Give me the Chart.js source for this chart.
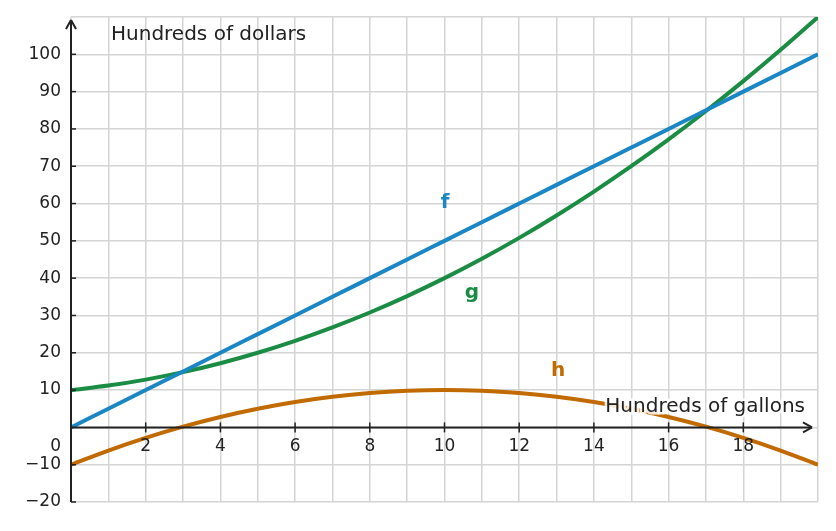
<!DOCTYPE html>
<html><head><meta charset="utf-8">
<script src="https://cdn.jsdelivr.net/npm/chart.js@4/dist/chart.umd.min.js"></script>
<style>html,body{margin:0;padding:0;background:#fff}#w{width:836px;height:531px}</style>
</head><body><div id="w"><canvas id="c"></canvas></div>
<script>
const xs = [0,1,2,3,4,5,6,7,8,9,10,11,12,13,14,15,16,17,18,19,20];
const fVals = [0,5,10,15,20,25,30,35,40,45,50,55,60,65,70,75,80,85,90,95,100];
const gVals = [10,11.2,12.8,14.8,17.2,20,23.2,26.8,30.8,35.2,40,45.2,50.8,56.8,63.2,70,77.2,84.8,92.8,101.2,110];
const hVals = [-10,-6.2,-2.8,0.2,2.8,5,6.8,8.2,9.2,9.8,10,9.8,9.2,8.2,6.8,5,2.8,0.2,-2.8,-6.2,-10];
const xTickLabels = [2,4,6,8,10,12,14,16,18];
const yTickLabels = [-20,-10,10,20,30,40,50,60,70,80,90,100];
const FC='#1a86c4', GC='#1a8c44', HC='#c06a00', TXT='#222';
const pts = v => xs.map((x,i)=>({x, y:v[i]}));
const F = '"DejaVu Sans", sans-serif';
const deco = {
  id:'deco',
  afterDatasetsDraw(ch){
    const c=ch.ctx, X=ch.scales.x, Y=ch.scales.y;
    const x0=X.getPixelForValue(0), y0=Y.getPixelForValue(0);
    c.save();
    c.strokeStyle=TXT; c.fillStyle=TXT; c.lineWidth=2;
    c.beginPath(); c.moveTo(x0,y0); c.lineTo(812,y0); c.stroke();
    c.beginPath(); c.moveTo(812,y0); c.lineTo(803,y0-5); c.moveTo(812,y0); c.lineTo(803,y0+5); c.stroke();
    c.beginPath(); c.moveTo(x0,Y.bottom); c.lineTo(x0,20); c.stroke();
    c.beginPath(); c.moveTo(x0,20); c.lineTo(x0-5,29); c.moveTo(x0,20); c.lineTo(x0+5,29); c.stroke();
    c.lineWidth=1.5;
    xTickLabels.forEach(v=>{const p=X.getPixelForValue(v); c.beginPath(); c.moveTo(p,y0-5); c.lineTo(p,y0+5); c.stroke();});
    [-20,-10,10,20,30,40,50,60,70,80,90,100].forEach(v=>{const p=Y.getPixelForValue(v); c.beginPath(); c.moveTo(x0,p); c.lineTo(x0+5,p); c.stroke();});
    c.font='17px '+F; c.textAlign='center'; c.textBaseline='middle';
    xTickLabels.forEach(v=>c.fillText(String(v), X.getPixelForValue(v), y0+19));
    c.textAlign='right'; c.fillText('0', x0-10, y0+19);
    yTickLabels.forEach(v=>c.fillText(v<0?'\u2212'+(-v):String(v), x0-10, Y.getPixelForValue(v)));
    c.font='20px '+F; c.textAlign='left';
    c.fillText('Hundreds of dollars',111,35);
    c.textAlign='right'; c.lineWidth=5; c.strokeStyle='rgba(255,255,255,0.85)';
    c.strokeText('Hundreds of gallons',805,407); c.fillText('Hundreds of gallons',805,407);
    c.font='bold 20px '+F; c.textAlign='center';
    c.fillStyle=FC; c.fillText('f',445,203);
    c.fillStyle=GC; c.fillText('g',472,293);
    c.fillStyle=HC; c.fillText('h',558,371);
    c.restore();
  }
};
new Chart(document.getElementById('c'),{
  type:'scatter',
  data:{datasets:[
    {data:pts(fVals),borderColor:FC},
    {data:pts(gVals),borderColor:GC},
    {data:pts(hVals),borderColor:HC}
  ].map(d=>Object.assign(d,{showLine:true,pointRadius:0,borderWidth:4,tension:0.4,fill:false,cubicInterpolationMode:'monotone'}))},
  options:{responsive:true,maintainAspectRatio:false,animation:false,
    layout:{padding:{top:17,right:18,bottom:29,left:0}},
    plugins:{legend:{display:false},tooltip:{enabled:false}},
    scales:{
      x:{type:'linear',min:0,max:20,ticks:{display:false,stepSize:1},grid:{color:'#d4d4d4',lineWidth:1.5,drawTicks:false},border:{display:false},afterFit(s){s.height=0;}},
      y:{min:-20,max:110,ticks:{display:false,stepSize:10},grid:{color:'#d4d4d4',lineWidth:1.5,drawTicks:false},border:{display:false},afterFit(s){s.width=71;}}
    }},
  plugins:[deco]
});
</script></body></html>
